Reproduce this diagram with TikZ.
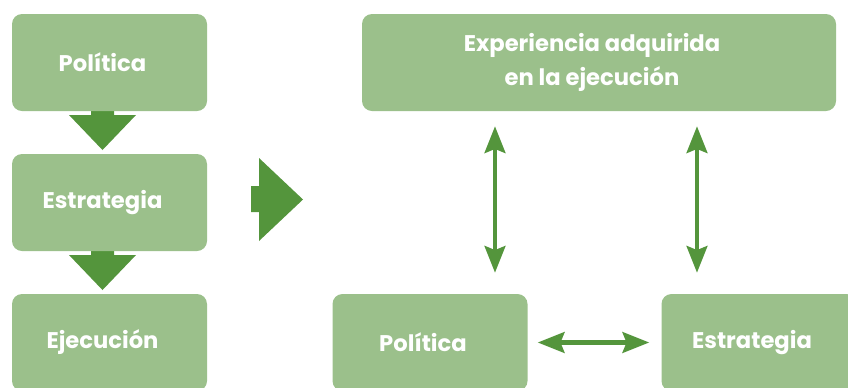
\documentclass[tikz,border=0pt]{standalone}
\usepackage{fontspec}
\setmainfont{Poppins}
\usetikzlibrary{arrows.meta,calc}
\definecolor{boxgreen}{RGB}{155,192,139}
\definecolor{arrowgreen}{RGB}{84,149,60}
\begin{document}
\begin{tikzpicture}[x=0.75pt,y=-0.75pt,
  greenbox/.style={fill=boxgreen,draw=none,rounded corners=7.5pt,minimum width=146.25pt,minimum height=72.75pt,inner sep=0pt},
  boxtext/.style={text=white,font=\fontsize{17}{25.5}\selectfont\bfseries,align=center,inner sep=0pt},
  blockarrow/.style={fill=arrowgreen,draw=none},
  dbl/.style={draw=arrowgreen,line width=3.4pt,{Stealth[length=20pt,width=15.5pt,inset=3pt]}-{Stealth[length=20pt,width=15.5pt,inset=3pt]}}]
\clip (0,0) rectangle (848,387);
% left column block arrows (behind boxes)
\coordinate (d1) at (102.5,111);
\coordinate (d2) at (102.5,251);
\fill[blockarrow] ($(d1)+(-11.5,-4)$) -- ($(d1)+(11.5,-4)$) -- ($(d1)+(11.5,4)$) -- ($(d1)+(33.5,4)$) -- ($(d1)+(0,39)$) -- ($(d1)+(-33.5,4)$) -- ($(d1)+(-11.5,4)$) -- cycle;
\fill[blockarrow] ($(d2)+(-11.5,-4)$) -- ($(d2)+(11.5,-4)$) -- ($(d2)+(11.5,4)$) -- ($(d2)+(33.5,4)$) -- ($(d2)+(0,39)$) -- ($(d2)+(-33.5,4)$) -- ($(d2)+(-11.5,4)$) -- cycle;
% left column boxes
\node[greenbox] (l1) at (109.5,62.5) {};
\node[greenbox] (l2) at (109.5,202.5) {};
\node[greenbox] (l3) at (109.5,342.5) {};
\node[boxtext] (l1t) at ([xshift=-5.25pt]l1.center) {Política};
\node[boxtext] (l2t) at ([xshift=-5.25pt]l2.center) {Estrategia};
\node[boxtext] (l3t) at ([xshift=-5.25pt]l3.center) {Ejecución};
% big right arrow
\fill[blockarrow] (251,186) -- (259,186) -- (259,158) -- (303,199.5) -- (259,241) -- (259,212) -- (251,212) -- cycle;
% right side boxes
\node[greenbox,minimum width=355.5pt] (top) at (599,62.5) {};
\node[greenbox] (pol) at (430,342.5) {};
\node[greenbox] (est) at (759,342.5) {};
\node[boxtext] (topt) at ([xshift=-5.25pt]top.center) {Experiencia adquirida\\en la ejecución};
\node[boxtext] (polt) at ([xshift=-5.25pt]pol.center) {Política};
\node[boxtext] (estt) at ([xshift=-5.25pt]est.center) {Estrategia};
% double arrows
\coordinate (v1) at (495,0);
\coordinate (v2) at (697,0);
\draw[dbl] ([yshift=-11.25pt]top.south -| v1) -- ([yshift=15.75pt]pol.north -| v1);
\draw[dbl] ([yshift=-11.25pt]top.south -| v2) -- ([yshift=15.75pt]est.north -| v2);
\draw[dbl] ([xshift=7.5pt]pol.east) -- ([xshift=-9pt]est.west);
\end{tikzpicture}
\end{document}
